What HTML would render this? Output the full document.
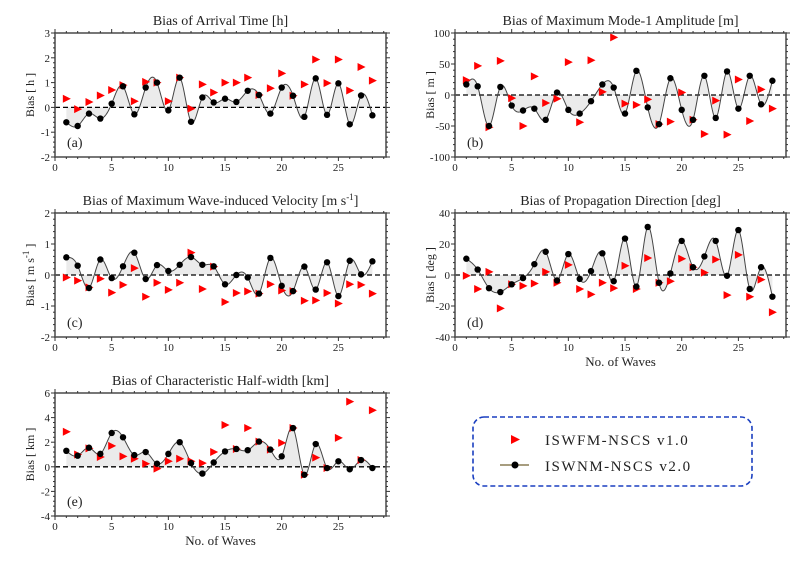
<!DOCTYPE html>
<html><head><meta charset="utf-8"><style>
body{margin:0;background:#fff;width:800px;height:561px;overflow:hidden}
svg text{font-family:"Liberation Serif",serif;fill:#222}
</style></head><body>
<svg id="s" width="800" height="561" xmlns="http://www.w3.org/2000/svg"></svg>
<script>
const S=document.getElementById('s');let h='';
const panels=[
{L:55,T:33,B:157,y0:-2,y1:3,maj:1,mn:0.2,title:'Bias of Arrival Time [h]',yl:'Bias [ h ]',tag:'(a)',xl:false,
k:[-0.6,-0.75,-0.25,-0.45,0.15,0.85,-0.28,0.8,1.0,-0.12,1.2,-0.58,0.4,0.2,0.35,0.22,0.67,0.5,-0.25,0.8,0.47,-0.38,1.17,-0.3,0.97,-0.68,0.48,-0.32],
r:[0.35,-0.07,0.22,0.48,0.7,0.9,0.25,1.03,1.0,0.25,1.2,-0.05,0.93,0.6,1.0,1.0,1.2,0.5,0.77,1.37,0.47,0.93,1.93,0.98,1.93,0.68,1.63,1.08]},
{L:455,T:33,B:157,y0:-100,y1:100,maj:50,mn:10,title:'Bias of Maximum Mode-1 Amplitude [m]',yl:'Bias [ m ]',tag:'(b)',xl:false,
k:[17,14,-50,13,-17,-25,-22,-40,4,-24,-30,-10,17,12,-30,39,-20,-47,27,-24,-40,31,-37,38,-22,31,-15,23],
r:[24,47,-52,55,-5,-50,30,-13,-6,53,-44,56,5,93,-14,-16,-7,-47,-43,4,-40,-63,-9,-64,25,-42,9,-22]},
{L:55,T:213,B:337,y0:-2,y1:2,maj:1,mn:0.2,title:'Bias of Maximum Wave-induced Velocity [m s<tspan dy="-5" font-size="9">-1</tspan><tspan dy="5">]</tspan>',yl:'Bias [ m s<tspan dy="-5" font-size="9">-1</tspan><tspan dy="5"> ]</tspan>',tag:'(c)',xl:false,
k:[.57,.3,-.42,.5,-.1,.28,.72,-.13,.32,.13,.33,.58,.33,.28,-.3,0,-.08,-.6,.55,-.35,-.52,.27,-.47,.41,-.68,.46,.02,.44],
r:[-.08,-.18,-.4,-.12,-.57,-.32,.22,-.7,-.25,-.48,-.25,.72,-.45,.27,-.87,-.58,-.53,-.6,-.3,-.5,-.52,-.83,-.82,-.58,-.92,-.3,-.32,-.6]},
{L:455,T:213,B:337,y0:-40,y1:40,maj:20,mn:4,title:'Bias of Propagation Direction [deg]',yl:'Bias [ deg ]',tag:'(d)',xl:true,
k:[10.5,3.5,-8.5,-11,-6,-2,7,15,-3.5,13.5,-2.5,2.5,14,-4,23.5,-7.5,31,-5,1,22,5,12,22,-0.5,29,-9,5,-14],
r:[-0.5,-9,2,-21.5,-6,-7,-5.5,2,-5,6.5,-9,-12.5,-5,-8.5,6,-9,11,-5,-4,10.5,5,1.5,10,-13,13,-14,-3,-24]},
{L:55,T:393,B:516,y0:-4,y1:6,maj:2,mn:0.4,title:'Bias of Characteristic Half-width [km]',yl:'Bias [ km ]',tag:'(e)',xl:true,
k:[1.3,.9,1.55,1.05,2.75,2.4,.95,1.2,.25,1.05,2,.3,-.55,.35,1.25,1.45,1.35,2.05,1.4,.85,3.15,-.65,1.85,-.1,.45,-.2,.55,-.1],
r:[2.85,1.0,1.5,.8,1.7,.85,.65,.25,-.15,.45,.65,.45,.3,1.2,3.4,1.45,3.15,2.05,1.4,1.95,3.15,-.65,.75,-.1,2.35,5.3,.55,4.6]}];
const W=331,XM=29.2;
function spline(y){const n=y.length,M=new Array(n).fill(0),a=[],b=[],c=[],d=[];
 for(let i=1;i<n-1;i++){a.push(1);b.push(4);c.push(1);d.push(6*(y[i+1]-2*y[i]+y[i-1]));}
 const m=d.length;for(let i=1;i<m;i++){const w=a[i]/b[i-1];b[i]-=w*c[i-1];d[i]-=w*d[i-1];}
 const s=new Array(m);s[m-1]=d[m-1]/b[m-1];for(let i=m-2;i>=0;i--)s[i]=(d[i]-c[i]*s[i+1])/b[i];
 for(let i=0;i<m;i++)M[i+1]=s[i];
 const out=[];for(let i=0;i<n-1;i++)for(let k=0;k<20;k++){const t=k/20;
  out.push([i+1+t,(1-t)*y[i]+t*y[i+1]+((1-t)**3-(1-t))*M[i]/6+(t**3-t)*M[i+1]/6]);}
 out.push([n,y[n-1]]);return out;}
panels.forEach(p=>{
 const X=v=>p.L+v*W/XM, Y=v=>p.B-(v-p.y0)/(p.y1-p.y0)*(p.B-p.T);
 const sp=spline(p.k);
 let d='M'+sp.map(q=>X(q[0]).toFixed(2)+','+Y(q[1]).toFixed(2)).join(' L');
 const z=Y(0);
 h+=`<path d="${d} L${X(p.k.length)},${z} L${X(1)},${z}Z" fill="#ebebeb"/>`;
 h+=`<line x1="${p.L}" x2="${p.L+W}" y1="${z}" y2="${z}" stroke="#000" stroke-width="1.3" stroke-dasharray="5,3"/>`;
 h+=`<path d="${d}" fill="none" stroke="#444" stroke-width="1"/>`;
 p.r.forEach((v,i)=>{const x=X(i+1),y=Y(v);h+=`<path d="M${x-3.5},${y-4}L${x+4.5},${y}L${x-3.5},${y+4}Z" fill="#f00"/>`;});
 p.k.forEach((v,i)=>h+=`<circle cx="${X(i+1)}" cy="${Y(v)}" r="3.2" fill="#000"/>`);
 h+=`<rect x="${p.L}" y="${p.T}" width="${W}" height="${p.B-p.T}" fill="none" stroke="#555" stroke-width="1.6"/>`;
 for(let v=0;v<=29;v++){const x=X(v),m=v%5==0?4:2;h+=`<line x1="${x}" x2="${x}" y1="${p.B}" y2="${p.B+m}" stroke="#333"/><line x1="${x}" x2="${x}" y1="${p.T}" y2="${p.T-m}" stroke="#333"/>`;
  if(v%5==0)h+=`<text x="${x}" y="${p.B+14}" font-size="11" text-anchor="middle">${v}</text>`;}
 const n=Math.round((p.y1-p.y0)/p.mn);
 for(let i=0;i<=n;i++){const v=p.y0+i*p.mn,y=Y(v),mj=Math.abs(v/p.maj-Math.round(v/p.maj))<1e-6,m=mj?4:2;
  h+=`<line x1="${p.L}" x2="${p.L-m}" y1="${y}" y2="${y}" stroke="#333"/><line x1="${p.L+W}" x2="${p.L+W+m}" y1="${y}" y2="${y}" stroke="#333"/>`;
  if(mj)h+=`<text x="${p.L-5}" y="${y+4}" font-size="11" text-anchor="end">${Math.round(v)}</text>`;}
 h+=`<text x="${p.L+W/2}" y="${p.T-8}" font-size="14" text-anchor="middle">${p.title}</text>`;
 const cy=(p.T+p.B)/2;
 h+=`<text transform="translate(${p.L-21},${cy}) rotate(-90)" font-size="12" text-anchor="middle">${p.yl}</text>`;
 h+=`<text x="${p.L+12}" y="${p.B-10}" font-size="14">${p.tag}</text>`;
 if(p.xl)h+=`<text x="${p.L+W/2}" y="${p.B+29}" font-size="13" text-anchor="middle">No. of Waves</text>`;
});
h+=`<rect x="473" y="417" width="279" height="69" rx="11" fill="none" stroke="#1a3fc0" stroke-width="1.6" stroke-dasharray="5,3"/>`;
h+=`<path d="M511,435L520,439.5L511,444Z" fill="#f00"/><text x="545" y="445" font-size="15" letter-spacing="1.5">ISWFM-NSCS v1.0</text>`;
h+=`<line x1="500" x2="529" y1="465" y2="465" stroke="#8a7d55" stroke-width="1.5"/><circle cx="515" cy="465" r="3.5" fill="#000"/><text x="545" y="471" font-size="15" letter-spacing="1.5">ISWNM-NSCS v2.0</text>`;
S.innerHTML=h;
</script>
</body></html>
